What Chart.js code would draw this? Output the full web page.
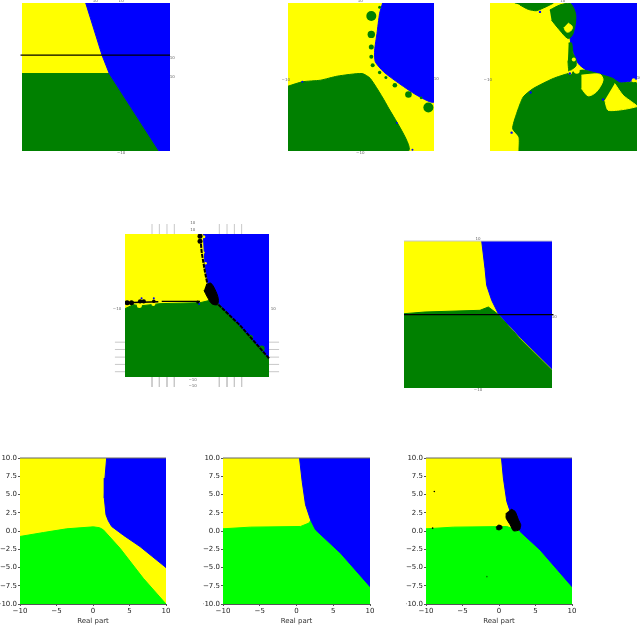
<!DOCTYPE html>
<html>
<head>
<meta charset="utf-8">
<title>Basins of attraction</title>
<script src="https://cdn.jsdelivr.net/npm/chart.js@4/dist/chart.umd.min.js"></script>
<style>
  html, body { margin: 0; padding: 0; background: #fff; overflow: hidden; }
  #page { position: relative; width: 640px; height: 625px; }
  canvas { position: absolute; }
</style>
</head>
<body>
<div id="page"></div>
<script>
// Axis values
const xTicks = [-10, -5, 0, 5, 10];
const yTicks = [-10, -7.5, -5, -2.5, 0, 2.5, 5, 7.5, 10];
const fullSquare = [[-10, 10], [10, 10], [10, -10], [-10, -10]];
const topEdge = [[-10, 10], [10, 10]];

// Panel 1
const p1Blue = [[-1.39, 10], [0.81, 2.96], [1.79, 0.47], [8.52, -10], [10, -10], [10, 10]];
const p1Green = [[-10, 0.47], [1.79, 0.47], [8.52, -10], [-10, -10]];
const p1Line = [[-10.2, 2.96], [10, 2.96]];
const p1Notes = [['10', 3.4, 10.3], ['\u221210', 3.4, -10.3], ['10', 10.3, 2.6], ['10', -0.1, 10.3], ['10', 10.3, 0]];

// Panel 2
const p2Blue = [[2.96, 10], [2.55, 8.6], [2.19, 5.89], [1.87, 3.63], [1.96, 2.05], [3.1, 0.7], [4.9, -0.65], [7.64, -2.46], [10, -3.36], [10, 10]];
const p2Green = [[-10, -1.24], [-8.04, -0.65], [-5.54, -0.43], [-3.27, 0.11], [0.14, 0.47], [1.28, -0.2], [3.55, -3.8], [6.5, -10], [-10, -10]];
const p2BlobX = [1.41, 1.41, 1.41, 1.41, 1.6, 2.55, 3.41, 4.64, 6.5, 8.23, 9.23, 2.55];
const p2BlobY = [8.24, 5.76, 4.04, 2.73, 1.6, 0.6, -0.07, -1.11, -2.37, -2.82, -4.13, 9.41];
const p2SpeckX = [-8.04, 7.05, 4.91];
const p2SpeckY = [-0.65, -9.82, -6.2];
const p2Notes = [['10', -0.1, 10.3], ['10', 10.3, -0.3], ['\u221210', -10.3, -0.4], ['\u221210', -0.1, -10.3]];

// Panel 3
const p3Blue = [[1.09, 10], [1.31, 7.7], [0.86, 5.89], [1.09, 4.09], [2, 1.83], [3.12, 0.93], [5.38, 0.25], [7.65, -0.79], [8.78, -0.65], [10, -0.2], [10, 10]];
const p3Green = [[-6.06, -10], [-6.06, -8.1], [-6.92, -6.98], [-6.38, -4.94], [-5.48, -2.69], [-4.12, -1.56], [-1.4, -0.2], [0.63, 0.47], [2.67, 0.93], [5.38, 0.25], [6.74, -0.2], [7.65, -0.79], [10, -0.88], [10, -10]];
const p3TopStrip = [[-6.61, 10], [-1.4, 10], [-1.86, 9.73], [-3.67, 8.96], [-4.8, 9.14], [-5.93, 9.73]];
const p3UpperBlob = [[-1.86, 9.05], [-0.5, 9.73], [0.86, 10], [1.67, 8.37], [1.31, 5.89], [0.63, 5.21], [-0.72, 6.57], [-1.63, 7.7]];
const p3UpperHole = [[0.63, 7.3], [1.2, 6.8], [0.95, 6.2], [0.4, 6.1], [0.05, 6.7]];
const p3Chain = [[0.7, 4.6], [1.1, 4.6], [1.3, 3.2], [1.7, 2.4], [1.7, 1.5], [1.1, 1.0], [0.75, 0.7], [0.6, 2.2]];
const p3IslandA = [[2.44, 0.25], [4.93, 0.38], [5.38, -0.43], [4.48, -2.01], [3.35, -2.55], [2.44, -1.56]];
const p3IslandB = [[6.97, -0.88], [8.1, -2.46], [9.91, -3.81], [10, -4], [8.1, -4.4], [6.06, -4.49], [5.61, -3.14]];
const p3YellowX = [1.4, 1.8, 9.55, 0.9];
const p3YellowY = [2.37, 0.85, -0.43, 0.6];
const p3SpeckX = [-7.06, -3.2, -4.48, 5.38, 0.86];
const p3SpeckY = [-7.52, 8.8, -2.1, -3.05, 0.47];
const p3Notes = [['10', -0.1, 10.3], ['10', 10.3, -0.1], ['\u221210', -10.3, -0.4]];

// Panel 4
const p4Blue = [[0.88, 10], [1.11, 5.59], [1.57, 2.81], [2.96, 0.26], [5.97, -3.0], [10, -7.6], [10, 10]];
const p4Green = [[-10, -0.44], [-8.84, 0.12], [-7.9, -0.06], [-5.14, 0.26], [0.42, 0.39], [1.8, 0.72], [2.96, 0.26], [5.97, -3.0], [10, -7.6], [10, -10], [-10, -10]];
const p4Core = [[1.25, 2.9], [1.9, 3.13], [2.5, 2.25], [2.96, 0.95], [2.82, 0.12], [2.04, 0.26], [1.44, 1.18], [0.97, 2.11]];
const p4Vertical = [[0.42, 10], [0.65, 7.45], [1.11, 4.66], [1.44, 3.04]];
const p4HorizontalA = [[-10, 0.39], [-5.37, 0.53]];
const p4HorizontalB = [[-4.9, 0.58], [0.42, 0.58]];
const p4Diagonal = [[2.96, 0.12], [5.97, -2.76], [10, -7.4]];
const p4BlackX = [0.42, 0.42, -9.7, -9.1, -7.9, -7.4, -6, 0.1];
const p4BlackY = [9.7, 9, 0.4, 0.4, 0.58, 0.58, 0.6, 0.5];
const p4YellowX = [-8, -6.06, -9.4, 0.95, 0.9, 1.2];
const p4YellowY = [0, 0.2, 0.9, 9.6, 7.4, 5.9];
const p4GreenX = [7.36, 8.98];
const p4GreenY = [-4.52, -6];
const p4BlueX = [-7.7, -6, 0.3];
const p4BlueY = [1, 1, 0.2];
const p4StubX = [-6.25, -5.23, -4.17, -3.15, 3.1, 4.17, 5.19, 6.2];
const p4StubY = [-5.13, -6.15, -7.22, -8.24, -9.26];
const p4Notes = [['10', -0.6, 11.6], ['10', -0.6, 10.6], ['\u221210', -0.6, -10.35], ['\u221210', -0.6, -11.25], ['\u221210', -11.1, -0.5], ['10', 10.6, -0.5]];

// Panel 5
const p5Blue = [[0.5, 10], [0.95, 6.24], [1.17, 3.97], [1.85, 1.93], [2.75, 0.11], [5.68, -3.06], [10, -7.37], [10, 10]];
const p5Green = [[-10, 0.11], [-7.16, 0.34], [0.27, 0.57], [1.4, 1.02], [2.75, 0], [5.68, -3.29], [10, -7.6], [10, -10], [-10, -10]];
const p5Line = [[-10, -0.02], [10.2, -0.02]];
const p5Notes = [['10', 0, 10.3], ['\u221210', 0, -10.3], ['10', 10.3, -0.4]];

// Panel 6
const p6Blue = [[1.87, 10], [1.64, 7.25], [1.55, 4.51], [1.78, 2.22], [2.1, 1.4], [2.56, 0.62], [4.2, -0.6], [6.44, -2.13], [10, -5.01], [10, 10]];
const p6Green = [[-10, -0.75], [-6.8, -0.21], [-3.6, 0.3], [0.05, 0.57], [0.9, 0.45], [1.42, 0.16], [3.7, -2.36], [6.89, -6.48], [10, -10], [-10, -10]];

// Panel 7
const p7Blue = [[0.41, 10], [0.77, 6.8], [1.23, 3.59], [1.91, 1.53], [2.59, 0.16], [6, -3.04], [10, -7.62], [10, 10]];
const p7Green = [[-10, 0.3], [-6.27, 0.53], [0.55, 0.62], [1.68, 1.08], [2, 1.53], [2.59, 0.16], [6, -3.04], [10, -7.62], [10, -10], [-10, -10]];

// Panel 8
const p8Blue = [[0.34, 10], [0.6, 7.25], [1.07, 4.05], [1.53, 2.68], [2.89, -0.07], [5.63, -2.59], [10, -7.62], [10, 10]];
const p8Green = [[-10, 0.3], [-6.22, 0.53], [1.07, 0.62], [2.89, -0.07], [5.63, -2.59], [10, -7.62], [10, -10], [-10, -10]];
const p8Core = [[1.66, 3], [2.21, 2.68], [2.67, 1.53], [2.98, 0.85], [2.8, 0.16], [1.98, 0.02], [1.53, 0.85], [0.98, 1.76], [0.98, 2.45]];
const p8Small = [[-0.4, 0.5], [-0.1, 0.8], [0.35, 0.7], [0.4, 0.35], [0, 0.15], [-0.35, 0.25]];
const p8SpeckX = [-8.86, -9.09];
const p8SpeckY = [5.42, 0.39];
const p8DarkX = [-1.66];
const p8DarkY = [-6.25];

const YELLOW = '#ffff00', BLUE = '#0000ff', GREEN = '#008000', LIME = '#00ff00', BLACK = '#000000';
const MARGIN = 20;

const toPoints = pts => pts.map(([x, y]) => ({ x, y }));

// Filled polygon, tension rounds the outline of the curved ones
const area = (pts, color, tension) => ({
  data: toPoints(pts),
  showLine: true,
  fill: 'shape',
  backgroundColor: color,
  borderColor: color,
  borderWidth: 1,
  tension: tension || 0,
  pointRadius: 0
});

// Open line, allowed to run outside the plot
const line = (pts, color, width, dash) => ({
  data: toPoints(pts),
  showLine: true,
  fill: false,
  borderColor: color,
  borderWidth: width,
  borderDash: dash || [],
  pointRadius: 0,
  clip: false
});

// Round blobs and specks
const dots = (xs, ys, color, radius) => ({
  data: xs.map((x, i) => ({ x, y: ys[i] })),
  showLine: false,
  backgroundColor: color,
  borderWidth: 0,
  pointRadius: radius
});

// Tiny axis numbers that sit around the upper panels
const notesPlugin = notes => ({
  id: 'axisNotes',
  afterDraw(chart) {
    const { ctx, scales } = chart;
    ctx.save();
    ctx.font = '4px "DejaVu Sans"';
    ctx.fillStyle = '#666';
    ctx.textAlign = 'center';
    ctx.textBaseline = 'middle';
    notes.forEach(([text, x, y]) => {
      ctx.fillText(text, scales.x.getPixelForValue(x), scales.y.getPixelForValue(y));
    });
    ctx.restore();
  }
});

const makeScale = (ticks, withAxes, fmt, side, title) => ({
  type: 'linear',
  display: withAxes,
  min: -10,
  max: 10,
  afterBuildTicks: s => { s.ticks = ticks.map(value => ({ value })); },
  afterFit: s => {
    if (!withAxes) return;
    if (side === 'x') s.height = MARGIN + 1; else s.width = MARGIN;
  },
  grid: { drawOnChartArea: false, tickLength: 2, color: '#555' },
  border: { color: '#555', width: 1 },
  title: title ? { display: true, text: title, color: '#333', padding: 0, font: { family: 'DejaVu Sans', size: 7 } } : { display: false },
  ticks: {
    autoSkip: false,
    maxRotation: 0,
    padding: 1,
    color: '#222',
    font: { family: 'DejaVu Sans', size: 7 },
    callback: v => fmt(v).replace('-', '\u2212')
  }
});

// box = plot area in page pixels, layers listed bottom to top
function createPanel(box, layers, withAxes, notes) {
  const canvas = document.createElement('canvas');
  const m = MARGIN;
  canvas.width = box.w + m * 2;
  canvas.height = box.h + m * 2 + 1;
  canvas.style.left = (box.x - m) + 'px';
  canvas.style.top = (box.y - m) + 'px';
  document.getElementById('page').appendChild(canvas);

  new Chart(canvas, {
    type: 'scatter',
    data: { datasets: layers.slice().reverse() },
    plugins: notes ? [notesPlugin(notes)] : [],
    options: {
      responsive: false,
      animation: false,
      events: [],
      layout: {
        padding: withAxes
          ? { left: 0, bottom: 0, top: m, right: m }
          : { left: m, bottom: m + 1, top: m, right: m }
      },
      plugins: {
        legend: { display: false },
        tooltip: { enabled: false },
        filler: { drawTime: 'beforeDatasetDraw', propagate: false }
      },
      scales: {
        x: makeScale(xTicks, withAxes, v => String(v), 'x', 'Real part'),
        y: makeScale(yTicks, withAxes, v => v.toFixed(1), 'y')
      }
    }
  });
}

// Short grey stubs around panel 4
const p4Stubs = [];
p4StubY.forEach(y => {
  p4Stubs.push(line([[-11.4, y], [-10, y]], '#c8c8c8', 1));
  p4Stubs.push(line([[10, y], [11.4, y]], '#c8c8c8', 1));
});
p4StubX.forEach(x => {
  p4Stubs.push(line([[x, 10], [x, 11.4]], '#c8c8c8', 1));
  p4Stubs.push(line([[x, -10], [x, -11.4]], '#c8c8c8', 1));
});

createPanel({ x: 21.5, y: 2.5, w: 148.5, h: 148 }, [
  area(fullSquare, YELLOW), area(p1Green, GREEN), area(p1Blue, BLUE),
  line(p1Line, BLACK, 1.2)
], false, p1Notes);

createPanel({ x: 287.5, y: 3, w: 146.5, h: 148 }, [
  area(fullSquare, YELLOW), area(p2Green, GREEN, 0.2), area(p2Blue, BLUE, 0.2),
  dots(p2BlobX, p2BlobY, GREEN, [5, 3.7, 2.5, 2, 2, 1.7, 1.5, 2.3, 3.3, 1.3, 5, 1.5]),
  dots(p2SpeckX, p2SpeckY, BLUE, 1)
], false, p2Notes);

createPanel({ x: 490, y: 3, w: 147.5, h: 148 }, [
  area(fullSquare, YELLOW), area(p3Blue, BLUE, 0.2), area(p3Green, GREEN, 0.2),
  area(p3TopStrip, GREEN, 0.2), area(p3UpperBlob, GREEN, 0.3), area(p3UpperHole, YELLOW, 0.4),
  area(p3Chain, GREEN, 0.2), area(p3IslandA, YELLOW, 0.3), area(p3IslandB, YELLOW, 0.2),
  dots(p3YellowX, p3YellowY, YELLOW, [2, 3, 2, 2]),
  dots(p3SpeckX, p3SpeckY, BLUE, 1.2)
], false, p3Notes);

createPanel({ x: 125, y: 233.5, w: 144, h: 143.5 }, [
  ...p4Stubs,
  area(fullSquare, YELLOW), area(p4Blue, BLUE), area(p4Green, GREEN),
  dots(p4GreenX, p4GreenY, GREEN, 3),
  dots(p4YellowX, p4YellowY, YELLOW, [2.5, 2, 1.5, 1.5, 1.2, 1.2]),
  dots(p4BlueX, p4BlueY, BLUE, 1),
  line(p4Vertical, BLACK, 2, [4, 1]),
  line(p4HorizontalA, BLACK, 1.5),
  line(p4HorizontalB, BLACK, 1.2),
  line(p4Diagonal, BLACK, 2, [4, 1]),
  dots(p4BlackX, p4BlackY, BLACK, [2.5, 2.5, 2.5, 2.5, 2.2, 2.2, 1.8, 1.5]),
  area(p4Core, BLACK, 0.3)
], false, p4Notes);

createPanel({ x: 404, y: 240.5, w: 148, h: 147 }, [
  area(fullSquare, YELLOW), area(p5Green, GREEN), area(p5Blue, BLUE),
  line(topEdge, '#c8c8c8', 1),
  line(p5Line, BLACK, 1.2)
], false, p5Notes);

createPanel({ x: 20, y: 458, w: 146, h: 146 }, [
  area(fullSquare, YELLOW), area(p6Green, LIME), area(p6Blue, BLUE),
  line(topEdge, '#666', 1)
], true);

createPanel({ x: 222.5, y: 458, w: 147, h: 146 }, [
  area(fullSquare, YELLOW), area(p7Green, LIME), area(p7Blue, BLUE),
  line(topEdge, '#666', 1)
], true);

createPanel({ x: 425.5, y: 458, w: 146.5, h: 146 }, [
  area(fullSquare, YELLOW), area(p8Green, LIME), area(p8Blue, BLUE),
  area(p8Core, BLACK, 0.2), area(p8Small, BLACK, 0.3),
  dots(p8SpeckX, p8SpeckY, BLACK, 0.8),
  dots(p8DarkX, p8DarkY, GREEN, 0.8),
  line(topEdge, '#666', 1)
], true);
</script>
</body>
</html>
